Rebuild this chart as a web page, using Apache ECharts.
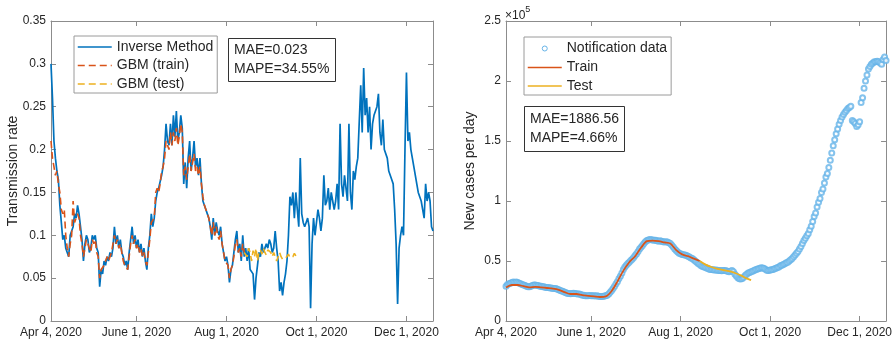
<!DOCTYPE html>
<html>
<head>
<meta charset="utf-8">
<script src="https://cdn.jsdelivr.net/npm/echarts@6.0.0/dist/echarts.min.js"></script>
<style>
  html, body { margin: 0; padding: 0; background: #fff; }
  #chart { width: 895px; height: 343px; }
</style>
</head>
<body>
<div id="chart"></div>
<script>
// x axis = days since Apr 4, 2020
const tickDays = [0, 58, 119, 180, 241];
const tickLabels = ['Apr 4, 2020', 'June 1, 2020', 'Aug 1, 2020', 'Oct 1, 2020', 'Dec 1, 2020'];
const lastDay = 259;

// left panel: daily transmission rate (day 0 .. 259)
const inverseRate = [
  0.30, 0.26, 0.21, 0.19, 0.175, 0.165, 0.135, 0.115, 0.095, 0.10,
  0.085, 0.08, 0.075, 0.10, 0.105, 0.11, 0.125, 0.12, 0.135, 0.125,
  0.11, 0.095, 0.07, 0.09, 0.10, 0.095, 0.08, 0.085, 0.10, 0.095,
  0.10, 0.085, 0.08, 0.04, 0.06, 0.055, 0.07, 0.065, 0.075, 0.07,
  0.08, 0.075, 0.085, 0.11, 0.09, 0.10, 0.085, 0.095, 0.08, 0.075,
  0.065, 0.07, 0.06, 0.08, 0.095, 0.11, 0.09, 0.10, 0.085, 0.095,
  0.08, 0.09, 0.075, 0.085, 0.07, 0.06, 0.085, 0.10, 0.125, 0.11,
  0.12, 0.14, 0.15, 0.155, 0.155, 0.17, 0.18, 0.20, 0.23, 0.21,
  0.205, 0.23, 0.205, 0.24, 0.215, 0.245, 0.21, 0.22, 0.24, 0.225,
  0.16, 0.185, 0.155, 0.19, 0.21, 0.175, 0.19, 0.21, 0.18, 0.19,
  0.17, 0.19, 0.16, 0.14, 0.135, 0.13, 0.125, 0.12, 0.11, 0.095,
  0.12, 0.10, 0.115, 0.105, 0.10, 0.11, 0.09, 0.08, 0.07, 0.075,
  0.065, 0.045, 0.06, 0.065, 0.08, 0.095, 0.105, 0.08, 0.09, 0.07,
  0.10, 0.075, 0.085, 0.07, 0.085, 0.06, 0.06, 0.055, 0.025, 0.05,
  0.065, 0.08, 0.075, 0.09, 0.08, 0.085, 0.09, 0.085, 0.095, 0.09,
  0.08, 0.085, 0.105, 0.085, 0.07, 0.035, 0.045, 0.03, 0.045, 0.055,
  0.07, 0.10, 0.145, 0.135, 0.15, 0.12, 0.15, 0.13, 0.11, 0.19,
  0.125, 0.115, 0.11, 0.115, 0.12, 0.11, 0.015, 0.09, 0.12, 0.10,
  0.115, 0.13, 0.12, 0.105, 0.12, 0.17, 0.135, 0.14, 0.155, 0.13,
  0.15, 0.14, 0.13, 0.14, 0.16, 0.13, 0.23, 0.16, 0.145, 0.17,
  0.155, 0.14, 0.23, 0.15, 0.13, 0.175, 0.165, 0.18, 0.19, 0.19,
  0.275, 0.22, 0.295, 0.24, 0.26, 0.22, 0.25, 0.20, 0.23, 0.24,
  0.24, 0.25, 0.265, 0.22, 0.205, 0.235, 0.20, 0.20, 0.19, 0.175,
  0.17, 0.165, 0.16, 0.13, 0.09, 0.02, 0.085, 0.10, 0.11, 0.10,
  0.20, 0.29, 0.21, 0.22, 0.20, 0.19, 0.18, 0.18, 0.16, 0.15,
  0.145, 0.14, 0.13, 0.12, 0.16, 0.14, 0.15, 0.14, 0.11, 0.105
];

// GBM fit on the training days (day 0 .. 131)
const gbmTrain = [
  0.21, 0.19, 0.18, 0.17, 0.175, 0.16, 0.15, 0.13, 0.125, 0.13,
  0.10, 0.085, 0.075, 0.09, 0.10, 0.14, 0.115, 0.12, 0.125, 0.12,
  0.10, 0.09, 0.075, 0.085, 0.095, 0.09, 0.085, 0.08, 0.095, 0.09,
  0.095, 0.08, 0.075, 0.05, 0.06, 0.06, 0.065, 0.07, 0.075, 0.07,
  0.075, 0.08, 0.08, 0.10, 0.09, 0.095, 0.085, 0.09, 0.08, 0.07,
  0.065, 0.065, 0.06, 0.075, 0.09, 0.10, 0.09, 0.095, 0.085, 0.09,
  0.08, 0.085, 0.075, 0.08, 0.07, 0.065, 0.08, 0.095, 0.115, 0.115,
  0.12, 0.15, 0.155, 0.15, 0.16, 0.175, 0.18, 0.19, 0.21, 0.205,
  0.20, 0.22, 0.205, 0.22, 0.21, 0.225, 0.205, 0.215, 0.23, 0.22,
  0.17, 0.18, 0.165, 0.18, 0.195, 0.175, 0.185, 0.195, 0.175, 0.18,
  0.17, 0.18, 0.16, 0.145, 0.135, 0.13, 0.125, 0.12, 0.11, 0.10,
  0.115, 0.10, 0.11, 0.10, 0.095, 0.105, 0.09, 0.08, 0.07, 0.07,
  0.065, 0.05, 0.06, 0.065, 0.075, 0.09, 0.095, 0.08, 0.085, 0.075,
  0.09, 0.08
];

// GBM prediction on the test days (day 131 .. 167)
const gbmTestStart = 131;
const gbmTest = [
  0.08, 0.078, 0.075, 0.085, 0.08, 0.07, 0.082, 0.075, 0.085, 0.07,
  0.08, 0.083, 0.078, 0.085, 0.08, 0.077, 0.083, 0.085, 0.08, 0.075,
  0.08, 0.078, 0.07, 0.075, 0.08, 0.075, 0.072, 0.074, 0.073, 0.075,
  0.078, 0.074, 0.072, 0.075, 0.079, 0.076, 0.073
];

// right panel: daily notified cases (day 0 .. 259)
const notifiedCases = [
  29000, 30500, 31000, 31500, 32000, 32500, 32000, 32500, 32000, 31500,
  31000, 30500, 30000, 29500, 29000, 28500, 28500, 29000, 29500, 30000,
  30000, 29500, 29500, 29000, 29000, 28500, 28500, 28000, 28000, 28000,
  27500, 27500, 27000, 27000, 27000, 26500, 26000, 25500, 25000, 24500,
  24000, 23500, 23000, 23000, 22800, 23000, 23200, 23000, 22800, 22500,
  22500, 22000, 21500, 21500, 21000, 21000, 21000, 21200, 21000, 21000,
  21000, 20800, 21000, 20700, 20500, 20500, 20500, 20800, 21000, 21500,
  22500, 24000, 25500, 27000, 29000, 31000, 33000, 35500, 37500, 40000,
  43000, 45000, 46500, 48000, 49000, 50500, 51500, 53000, 54500, 56000,
  58000, 60000, 61500, 63000, 64500, 66000, 67000, 67500, 68000, 67800,
  67500, 67200, 67200, 66800, 66500, 66800, 66500, 66000, 65800, 66000,
  65800, 65200, 64500, 63200, 61700, 60000, 58800, 57500, 56500, 56000,
  55500, 55200, 55000, 54500, 54000, 53300, 52500, 52000, 51000, 50000,
  49000, 48000, 47000, 46000, 45500, 45000, 44500, 44000, 43500, 43000,
  43000, 42800, 42500, 42500, 42200, 42000, 42000, 41800, 42000, 42000,
  41800, 41500, 41000, 41500, 42000, 41000, 39000, 37500, 36000, 35200,
  35000, 35500, 36500, 38000, 39000, 40000, 40500, 41000, 41500, 42000,
  42800, 43200, 43600, 44000, 44400, 44200, 43800, 43000, 42000, 42000,
  42500, 42800, 43000, 43500, 44000, 44500, 45000, 46000, 46500, 47000,
  47800, 48500, 49000, 50000, 51000, 52000, 53500, 55000, 56500, 58000,
  60000, 62000, 64500, 67000, 69000, 71000, 73000, 76000, 79000, 83000,
  87000, 90000, 95000, 99000, 102000, 107000, 110000, 115000, 120000, 123000,
  128000, 134000, 140000, 146000, 151000, 156000, 160000, 164000, 167000, 170000,
  172000, 174000, 175500, 177000, 178000, 179000, 167000, 166000, 164500, 162000,
  163500, 166000, 182000, 186000, 194000, 200000, 205000, 210000, 212000, 214000,
  215000, 216000, 216000, 216500, 216000, 215000, 214000, 218000, 220000, 217000
];

const trainDays = [0, 4, 8, 12, 16, 20, 24, 28, 32, 36, 40, 44, 48, 52, 56, 60, 64,
  68, 72, 76, 80, 84, 88, 92, 96, 100, 104, 108, 112, 116, 120, 124, 128, 132];
const trainCases = [28000, 30000, 30000, 29000, 28000, 28500, 28000, 27500, 27000,
  26000, 24000, 22500, 22500, 21500, 21000, 20500, 20000, 20500, 25000, 33000,
  42000, 49000, 54000, 61000, 66500, 67000, 66500, 65500, 64500, 59000, 55500,
  54000, 52000, 50000];

const testDays = [132, 136, 140, 144, 148, 152, 156, 160, 164, 167];
const testCases = [50000, 47000, 45000, 43500, 42500, 41500, 40000, 38000, 35500, 34000];

const textColor = '#262626';
const axisColor = '#8c8c8c';
const fontFamily = '"Liberation Sans", Arial, sans-serif';
const circleColor = '#66b4e8';
const dash = [7, 4];

function dateAxis(gridIndex, position, showLabel) {
  return {
    type: 'value',
    gridIndex: gridIndex,
    position: position,
    min: 0,
    max: lastDay,
    axisLine: { show: true, onZero: false, lineStyle: { color: axisColor, width: 1 } },
    axisTick: { show: true, inside: true, length: 5, customValues: tickDays, lineStyle: { color: axisColor } },
    axisLabel: {
      show: showLabel,
      customValues: tickDays,
      margin: 6,
      color: textColor,
      fontSize: 12,
      fontFamily: fontFamily,
      formatter: v => tickLabels[tickDays.indexOf(v)] || ''
    },
    splitLine: { show: false }
  };
}

function valueAxis(gridIndex, position, max, interval, showLabel, name, nameGap, formatter) {
  return {
    type: 'value',
    gridIndex: gridIndex,
    position: position,
    min: 0,
    max: max,
    interval: interval,
    name: name,
    nameLocation: 'middle',
    nameGap: nameGap,
    nameMoveOverlap: false,
    nameTextStyle: { color: textColor, fontSize: 14, fontFamily: fontFamily },
    axisLine: { show: true, onZero: false, lineStyle: { color: axisColor, width: 1 } },
    axisTick: { show: true, inside: true, length: 5, lineStyle: { color: axisColor } },
    axisLabel: { show: showLabel, margin: 5, color: textColor, fontSize: 12, fontFamily: fontFamily, formatter: formatter },
    splitLine: { show: false }
  };
}

const chart = echarts.init(document.getElementById('chart'), null, { renderer: 'canvas' });

// legend line samples only: hide the marker that line series put in their legend icon
const noMarker = { opacity: 0 };

chart.setOption({
  animation: false,
  backgroundColor: '#fff',
  textStyle: { fontFamily: fontFamily },
  grid: [
    { left: 51, right: 462, top: 21, bottom: 22 },
    { left: 506, right: 8, top: 21, bottom: 22 }
  ],
  xAxis: [
    dateAxis(0, 'bottom', true),
    dateAxis(0, 'top', false),
    dateAxis(1, 'bottom', true),
    dateAxis(1, 'top', false)
  ],
  yAxis: [
    valueAxis(0, 'left', 0.35, 0.05, true, 'Transmission rate', 31),
    valueAxis(0, 'right', 0.35, 0.05, false),
    valueAxis(1, 'left', 250000, 50000, true, 'New cases per day', 29, v => String(v / 100000)),
    valueAxis(1, 'right', 250000, 50000, false)
  ],
  title: [
    {
      text: 'MAE=0.023\nMAPE=34.55%',
      left: 228, top: 38,
      padding: [3, 6, 3, 6],
      borderColor: '#333', borderWidth: 1, backgroundColor: '#fff',
      textStyle: { fontSize: 14, fontWeight: 'normal', color: textColor, lineHeight: 19, fontFamily: fontFamily }
    },
    {
      text: 'MAE=1886.56\nMAPE=4.66%',
      left: 524, top: 106,
      padding: [4, 6, 4, 6],
      borderColor: '#333', borderWidth: 1, backgroundColor: '#fff',
      textStyle: { fontSize: 14, fontWeight: 'normal', color: textColor, lineHeight: 19, fontFamily: fontFamily }
    },
    {
      text: '{x|×10}{s|5}',
      left: 505, top: 4,
      padding: 0,
      textStyle: {
        fontWeight: 'normal',
        rich: {
          x: { fontSize: 12, fontWeight: 'normal', color: textColor, fontFamily: fontFamily, padding: [6, 0, 0, 0] },
          s: { fontSize: 9, fontWeight: 'normal', color: textColor, fontFamily: fontFamily, padding: [0, 0, 6, 0] }
        }
      }
    }
  ],
  legend: [
    {
      left: 74, top: 36,
      orient: 'vertical',
      itemWidth: 34, itemHeight: 14, itemGap: 4.5,
      padding: [4, 4, 2, 3],
      borderColor: '#9a9a9a', borderWidth: 1, backgroundColor: '#fff',
      itemStyle: noMarker,
      lineStyle: { width: 1.5 },
      textStyle: { fontSize: 14, color: textColor, fontFamily: fontFamily },
      data: ['Inverse Method', 'GBM (train)', 'GBM (test)']
    },
    {
      left: 524, top: 37,
      orient: 'vertical',
      itemWidth: 34, itemHeight: 14, itemGap: 4.5,
      padding: [4, 4, 2, 3],
      borderColor: '#9a9a9a', borderWidth: 1, backgroundColor: '#fff',
      lineStyle: { width: 1.5 },
      textStyle: { fontSize: 14, color: textColor, fontFamily: fontFamily },
      data: [
        {
          name: 'Notification data',
          icon: 'path://M0,0L0,0M34,14L34,14M19.5,7A2.5,2.5,0,1,1,14.5,7A2.5,2.5,0,1,1,19.5,7Z',
          itemStyle: { color: 'transparent', borderColor: circleColor, borderWidth: 1, opacity: 1 }
        },
        { name: 'Train', itemStyle: noMarker },
        { name: 'Test', itemStyle: noMarker }
      ]
    }
  ],
  series: [
    {
      name: 'Inverse Method',
      type: 'line',
      xAxisIndex: 0, yAxisIndex: 0,
      symbol: 'none',
      lineStyle: { color: '#0072BD', width: 1.7 },
      itemStyle: { color: '#0072BD' },
      data: inverseRate.map((v, d) => [d, v])
    },
    {
      name: 'GBM (train)',
      type: 'line',
      xAxisIndex: 0, yAxisIndex: 0,
      symbol: 'none',
      lineStyle: { color: '#D95319', width: 1.6, type: dash },
      itemStyle: { color: '#D95319' },
      data: gbmTrain.map((v, d) => [d, v])
    },
    {
      name: 'GBM (test)',
      type: 'line',
      xAxisIndex: 0, yAxisIndex: 0,
      symbol: 'none',
      lineStyle: { color: '#EDB120', width: 1.6, type: dash },
      itemStyle: { color: '#EDB120' },
      data: gbmTest.map((v, i) => [gbmTestStart + i, v])
    },
    {
      name: 'Notification data',
      type: 'scatter',
      xAxisIndex: 2, yAxisIndex: 2,
      symbol: 'emptyCircle',
      symbolSize: 5,
      itemStyle: { color: circleColor, borderColor: circleColor, borderWidth: 0.6 },
      data: notifiedCases.map((v, d) => [d, v])
    },
    {
      name: 'Train',
      type: 'line',
      xAxisIndex: 2, yAxisIndex: 2,
      symbol: 'none',
      smooth: 0.3,
      lineStyle: { color: '#D95319', width: 1.8 },
      itemStyle: { color: '#D95319' },
      data: trainDays.map((d, i) => [d, trainCases[i]])
    },
    {
      name: 'Test',
      type: 'line',
      xAxisIndex: 2, yAxisIndex: 2,
      symbol: 'none',
      smooth: 0.3,
      lineStyle: { color: '#EDB120', width: 1.8 },
      itemStyle: { color: '#EDB120' },
      data: testDays.map((d, i) => [d, testCases[i]])
    }
  ]
});
</script>
</body>
</html>
